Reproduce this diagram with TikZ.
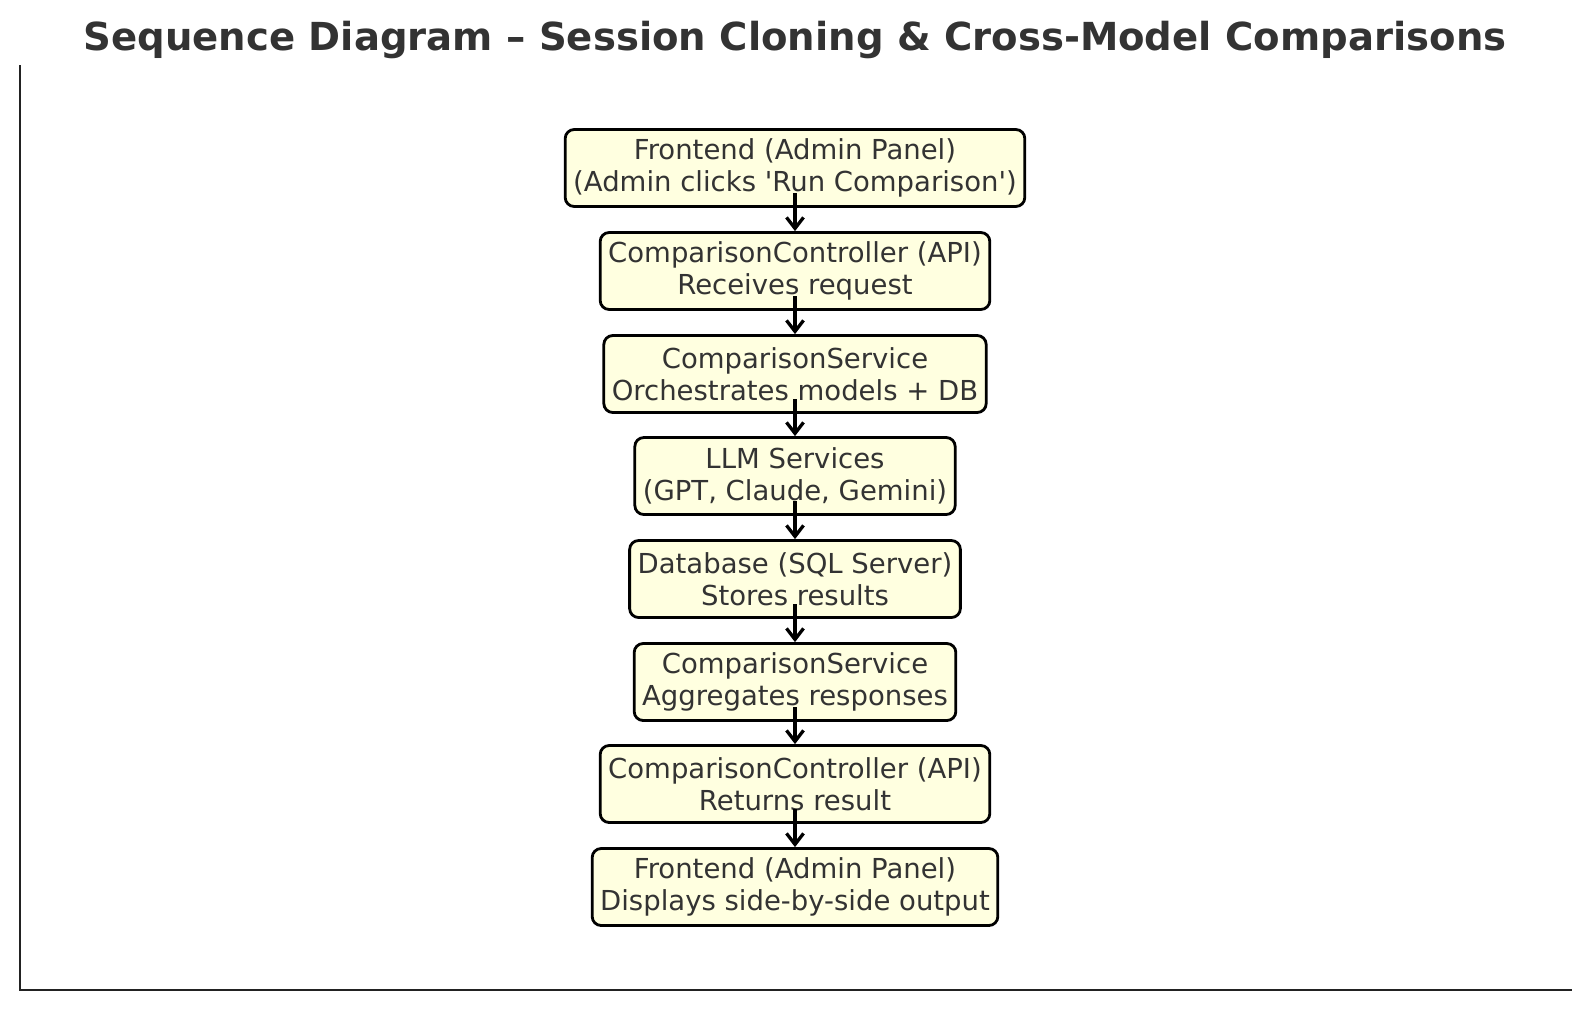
\documentclass[tikz,border=0pt]{standalone}
\usepackage{fontspec}
\setmainfont{DejaVu Sans}[Ligatures=TeXOff]
\usetikzlibrary{arrows.meta}
\definecolor{boxfill}{HTML}{FFFFE0}
\definecolor{txtgray}{HTML}{333333}
\definecolor{axgray}{HTML}{222222}
\tikzset{
  stepbox/.style={draw=black,fill=boxfill,line width=2.8pt,rounded corners=9pt,
    align=center,text=txtgray,inner xsep=8pt,minimum height=77pt,
    font=\fontsize{27.5}{32.4}\selectfont},
  flow/.style={line width=3.3pt,-{Straight Barb[length=11pt,width=17pt,line width=3.3pt]}},
}
\begin{document}
\begin{tikzpicture}[x=1pt,y=-1pt]
\useasboundingbox (0,0) rectangle (1589,1010);
% axes spines
\draw[color=axgray,line width=2.5pt] (20,65)--(20,990)--(1572,990);
\node[font=\bfseries\fontsize{38.6}{44}\selectfont,text=txtgray] (title) at (795,40) {Sequence Diagram – Session Cloning \& Cross-Model Comparisons};
\node[stepbox] (n1) at (795,168) {Frontend (Admin Panel)\\(Admin clicks 'Run Comparison')};
\node[stepbox] (n2) at (795,271) {ComparisonController (API)\\Receives request};
\node[stepbox] (n3) at (795,374) {ComparisonService\\Orchestrates models + DB};
\node[stepbox] (n4) at (795,476) {LLM Services\\(GPT, Claude, Gemini)};
\node[stepbox] (n5) at (795,579) {Database (SQL Server)\\Stores results};
\node[stepbox] (n6) at (795,682) {ComparisonService\\Aggregates responses};
\node[stepbox] (n7) at (795,784) {ComparisonController (API)\\Returns result};
\node[stepbox] (n8) at (795,887) {Frontend (Admin Panel)\\Displays side-by-side output};
\foreach \a/\b in {n1/n2,n2/n3,n3/n4,n4/n5,n5/n6,n6/n7,n7/n8}{
\draw[flow] ([yshift=-25pt]\a.center)--(\b.north);
}
\end{tikzpicture}
\end{document}
